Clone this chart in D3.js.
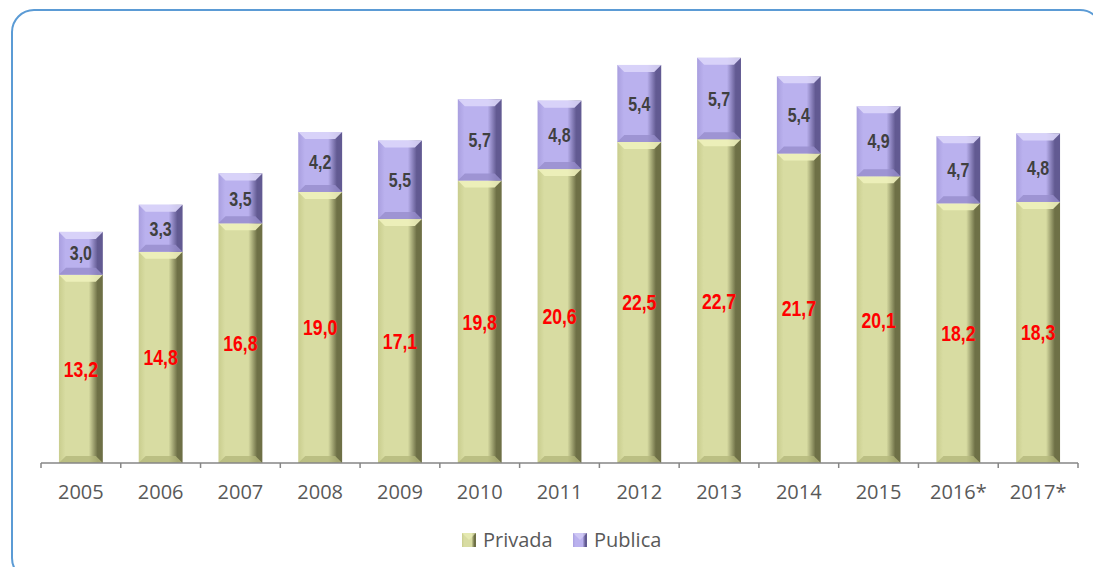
<!DOCTYPE html>
<html>
<head>
<meta charset="utf-8">
<script src="https://cdn.jsdelivr.net/npm/d3@7"></script>
<style>
  body { margin: 0; background: #fff; }
  svg { display: block; }
</style>
</head>
<body>
<div id="chart"></div>
<script>
var years = ["2005", "2006", "2007", "2008", "2009", "2010", "2011", "2012", "2013", "2014", "2015", "2016*", "2017*"];
var privada = [13.2, 14.8, 16.8, 19.0, 17.1, 19.8, 20.6, 22.5, 22.7, 21.7, 20.1, 18.2, 18.3];
var publica = [3.0, 3.3, 3.5, 4.2, 5.5, 5.7, 4.8, 5.4, 5.7, 5.4, 4.9, 4.7, 4.8];
var seriesNames = ["Privada", "Publica"];

var svgWidth = 1093;
var svgHeight = 567;

var svg = d3.select("#chart")
  .append("svg")
  .attr("width", svgWidth)
  .attr("height", svgHeight);

// outer rounded frame
svg.append("rect")
  .attr("x", 12)
  .attr("y", 10)
  .attr("width", 1090)
  .attr("height", 570)
  .attr("rx", 22)
  .attr("fill", "none")
  .attr("stroke", "#5b9bd5")
  .attr("stroke-width", 2);

var x = d3.scaleBand()
  .domain(years)
  .range([41, 1078])
  .paddingInner(0.45)
  .paddingOuter(0.225);

var y = d3.scaleLinear()
  .domain([0, 30])
  .range([463, 35]);

// colour sets for the bevelled look
var styles = {
  Privada: { top: "#eef1bb", left: "#c9cd8e", body: "#d8dca2", right: "#6e7046", bottom: "#b4b87c", label: "#ff0000", size: 22 },
  Publica: { top: "#dcd6fa", left: "#a99fdf", body: "#bab1ee", right: "#625a92", bottom: "#978dcc", label: "#404040", size: 20 }
};

var defs = svg.append("defs");
seriesNames.forEach(function(name) {
  var s = styles[name];
  var g = defs.append("linearGradient")
    .attr("id", "grad-" + name)
    .attr("x1", "0%").attr("x2", "100%")
    .attr("y1", "0%").attr("y2", "0%");
  g.append("stop").attr("offset", "0%").attr("stop-color", s.left);
  g.append("stop").attr("offset", "15%").attr("stop-color", s.body);
  g.append("stop").attr("offset", "68%").attr("stop-color", s.body);
  g.append("stop").attr("offset", "88%").attr("stop-color", s.right);
  g.append("stop").attr("offset", "100%").attr("stop-color", s.right);
});

// build segments
var segments = [];
years.forEach(function(yr, i) {
  segments.push({ year: yr, name: "Privada", y0: 0, y1: privada[i], value: privada[i] });
  segments.push({ year: yr, name: "Publica", y0: privada[i], y1: privada[i] + publica[i], value: publica[i] });
});

var bev = 7;
var barGroup = svg.append("g");

var segs = barGroup.selectAll("g.seg")
  .data(segments)
  .enter()
  .append("g")
  .attr("class", "seg");

segs.append("rect")
  .attr("x", d => x(d.year))
  .attr("y", d => y(d.y1))
  .attr("width", x.bandwidth())
  .attr("height", d => y(d.y0) - y(d.y1))
  .attr("fill", d => "url(#grad-" + d.name + ")");

// top bevel
segs.append("path")
  .attr("d", function(d) {
    var x0 = x(d.year), x1 = x0 + x.bandwidth(), t = y(d.y1);
    return "M" + x0 + "," + t + "L" + x1 + "," + t + "L" + (x1 - bev) + "," + (t + bev) + "L" + (x0 + bev) + "," + (t + bev) + "Z";
  })
  .attr("fill", d => styles[d.name].top)
  .attr("opacity", 0.9);

// bottom bevel
segs.append("path")
  .attr("d", function(d) {
    var x0 = x(d.year), x1 = x0 + x.bandwidth(), b = y(d.y0);
    return "M" + x0 + "," + b + "L" + x1 + "," + b + "L" + (x1 - bev) + "," + (b - bev) + "L" + (x0 + bev) + "," + (b - bev) + "Z";
  })
  .attr("fill", d => styles[d.name].bottom)
  .attr("opacity", 0.8);

// value labels (squeezed to look like a narrow bold face)
segs.append("text")
  .attr("transform", d => `translate(${x(d.year) + x.bandwidth() / 2}, ${(y(d.y0) + y(d.y1)) / 2}) scale(0.8, 1)`)
  .attr("dy", "0.36em")
  .attr("text-anchor", "middle")
  .attr("font-family", "'Liberation Sans', Arial, sans-serif")
  .attr("font-weight", "bold")
  .attr("font-size", d => styles[d.name].size + "px")
  .attr("fill", d => styles[d.name].label)
  .text(d => d.value.toFixed(1).replace(".", ","));

// x axis
var axis = svg.append("g");
axis.append("line")
  .attr("x1", 41).attr("x2", 1078)
  .attr("y1", y(0)).attr("y2", y(0))
  .attr("stroke", "#868686")
  .attr("stroke-width", 1.5);

var bounds = years.map(d => x(d) - x.step() * x.paddingInner() / 2);
bounds.push(1078);
axis.selectAll("line.tick")
  .data(bounds)
  .enter()
  .append("line")
  .attr("class", "tick")
  .attr("x1", d => d).attr("x2", d => d)
  .attr("y1", y(0)).attr("y2", y(0) + 5)
  .attr("stroke", "#868686")
  .attr("stroke-width", 1.5);

axis.selectAll("text")
  .data(years)
  .enter()
  .append("text")
  .attr("x", d => x(d) + x.bandwidth() / 2)
  .attr("y", 499)
  .attr("text-anchor", "middle")
  .attr("font-family", "'Open Sans', 'Noto Sans', sans-serif")
  .attr("font-size", "20px")
  .attr("fill", "#595959")
  .text(d => d);

// legend
var legend = svg.append("g");
var legendX = [462, 573];
seriesNames.forEach(function(name, i) {
  var s = styles[name];
  var lg = legend.append("g").attr("transform", "translate(" + legendX[i] + ",533)");
  lg.append("rect")
    .attr("width", 14).attr("height", 14)
    .attr("fill", "url(#grad-" + name + ")");
  lg.append("path")
    .attr("d", "M0,0L14,0L7,7Z")
    .attr("fill", s.top)
    .attr("opacity", 0.6);
  lg.append("text")
    .attr("x", 21)
    .attr("y", 14)
    .attr("font-family", "'Open Sans', 'Noto Sans', sans-serif")
    .attr("font-size", "20px")
    .attr("fill", "#595959")
    .text(name);
});
</script>
</body>
</html>
